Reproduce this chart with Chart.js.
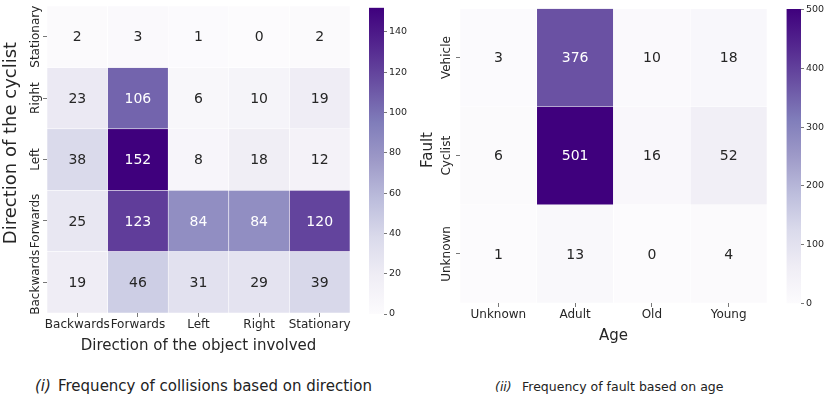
<!DOCTYPE html>
<html>
<head>
<meta charset="utf-8">
<script src="https://cdn.jsdelivr.net/npm/chart.js@4.4.1/dist/chart.umd.min.js"></script>
<style>
  html, body { margin:0; padding:0; background:#fff; }
  body { width:830px; height:400px; position:relative; overflow:hidden; font-family:"DejaVu Sans", sans-serif; color:#262626; }
  .box { position:absolute; }
  .cap { position:absolute; white-space:nowrap; line-height:1; color:#222; }
  .cap i { font-style:italic; }
</style>
</head>
<body>
<div class="box" style="left:0;top:0;width:360px;height:360px"><canvas id="dirChart"></canvas></div>
<div class="box" style="left:360px;top:0;width:60px;height:330px"><canvas id="dirBar"></canvas></div>
<div class="box" style="left:420px;top:0;width:360px;height:350px"><canvas id="ageChart"></canvas></div>
<div class="box" style="left:780px;top:0;width:50px;height:320px"><canvas id="ageBar"></canvas></div>

<div class="cap" style="left:35px;top:379px;font-size:15px"><i>(i)</i></div>
<div class="cap" style="left:58px;top:379px;font-size:15px">Frequency of collisions based on direction</div>
<div class="cap" style="left:495px;top:381px;font-size:12.5px"><i>(ii)</i></div>
<div class="cap" style="left:522px;top:381px;font-size:12.5px">Frequency of fault based on age</div>

<script>
// heatmap (i): direction of cyclist vs direction of object
const DIR_COLS = ["Backwards", "Forwards", "Left", "Right", "Stationary"];
const DIR_ROWS = ["Stationary", "Right", "Left", "Forwards", "Backwards"];
const DIR_STATIONARY = [2, 3, 1, 0, 2];
const DIR_RIGHT      = [23, 106, 6, 10, 19];
const DIR_LEFT       = [38, 152, 8, 18, 12];
const DIR_FORWARDS   = [25, 123, 84, 84, 120];
const DIR_BACKWARDS  = [19, 46, 31, 29, 39];
const DIR_VALUES = [DIR_STATIONARY, DIR_RIGHT, DIR_LEFT, DIR_FORWARDS, DIR_BACKWARDS];
const DIR_CBAR_STEP = 20;

// heatmap (ii): fault vs age
const AGE_COLS = ["Unknown", "Adult", "Old", "Young"];
const FAULT_ROWS = ["Vehicle", "Cyclist", "Unknown"];
const FAULT_VEHICLE = [3, 376, 10, 18];
const FAULT_CYCLIST = [6, 501, 16, 52];
const FAULT_UNKNOWN = [1, 13, 0, 4];
const FAULT_VALUES = [FAULT_VEHICLE, FAULT_CYCLIST, FAULT_UNKNOWN];
const AGE_CBAR_STEP = 100;

// matplotlib "Purples"
const PURPLES = ["#fcfbfd","#efedf5","#dadaeb","#bcbddc","#9e9ac8","#807dba","#6a51a3","#54278f","#3f007d"];
const FONT = "DejaVu Sans";
const INK = "#262626";

function hexRgb(h){ return [1,3,5].map(i => parseInt(h.slice(i, i+2), 16)); }
function purpleRgb(t){
  t = Math.max(0, Math.min(1, t));
  const p = t * (PURPLES.length - 1);
  const i = Math.min(PURPLES.length - 2, Math.floor(p));
  const f = p - i;
  const a = hexRgb(PURPLES[i]), b = hexRgb(PURPLES[i+1]);
  return a.map((v, k) => Math.round(v + (b[k] - v) * f));
}
function rgbStr(c){ return `rgb(${c[0]},${c[1]},${c[2]})`; }
function relLum(c){
  const l = c.map(v => { v /= 255; return v <= 0.03928 ? v / 12.92 : Math.pow((v + 0.055) / 1.055, 2.4); });
  return 0.2126*l[0] + 0.7152*l[1] + 0.0722*l[2];
}

function makeHeatmap(id, rows, cols, values, o){
  const vmax = Math.max(...values.flat());
  const datasets = rows.map((r, ri) => ({
    label: r,
    data: cols.map(() => [ri, ri + 1]),
    backgroundColor: values[ri].map(v => rgbStr(purpleRgb(v / vmax))),
    borderColor: "#ffffff",
    borderWidth: 0.6,
    borderSkipped: false,
    grouped: false,
    categoryPercentage: 1,
    barPercentage: 1
  }));

  // cell numbers + rotated y tick labels / y title
  const labelsPlugin = {
    id: "cellLabels",
    afterDatasetsDraw(chart){
      const ctx = chart.ctx;
      ctx.save();
      ctx.textAlign = "center";
      ctx.textBaseline = "middle";
      ctx.font = `14px "${FONT}"`;
      rows.forEach((r, ri) => {
        const meta = chart.getDatasetMeta(ri);
        meta.data.forEach((bar, ci) => {
          const p = bar.getProps(["x", "y", "base"], true);
          const v = values[ri][ci];
          ctx.fillStyle = relLum(purpleRgb(v / vmax)) > 0.408 ? INK : "#ffffff";
          ctx.fillText(String(v), p.x, (p.y + p.base) / 2 + 1);
        });
      });
      const ys = chart.scales.y;
      ctx.fillStyle = INK;
      ctx.font = `12px "${FONT}"`;
      rows.forEach((r, ri) => {
        ctx.save();
        ctx.translate(o.tickX, ys.getPixelForValue(ri + 0.5));
        ctx.rotate(-Math.PI / 2);
        ctx.fillText(r, 0, 0);
        ctx.restore();
      });
      ctx.font = `${o.yTitleSize}px "${FONT}"`;
      ctx.translate(o.yTitleX, o.yTitleY);
      ctx.rotate(-Math.PI / 2);
      ctx.fillText(o.yTitle, 0, 0);
      ctx.restore();
    }
  };

  return new Chart(document.getElementById(id), {
    type: "bar",
    data: { labels: cols, datasets },
    plugins: [labelsPlugin],
    options: {
      responsive: true, maintainAspectRatio: false, animation: false,
      layout: { padding: o.padding },
      plugins: { legend: { display: false }, tooltip: { enabled: false } },
      scales: {
        x: {
          type: "category", offset: true,
          grid: { offset: false, drawOnChartArea: false, tickLength: 4, color: "#555", lineWidth: 0.8 },
          border: { display: false },
          ticks: { font: { family: FONT, size: 12 }, color: INK, padding: 1, maxRotation: 0, autoSkip: false },
          title: { display: true, text: o.xTitle, color: INK, font: { family: FONT, size: 15 }, padding: { top: 0, bottom: o.xTitlePad } },
          afterFit: s => { s.height = o.xAxisH; }
        },
        y: {
          type: "linear", min: 0, max: rows.length, reverse: true,
          afterBuildTicks: s => { s.ticks = rows.map((_, i) => ({ value: i + 0.5 })); },
          ticks: { display: false },
          grid: { drawOnChartArea: false, tickLength: 4, color: "#555", lineWidth: 0.8 },
          border: { display: false },
          afterFit: s => { s.width = o.yAxisW; }
        }
      }
    }
  });
}

function makeColorbar(id, values, step, o){
  const vmax = Math.max(...values.flat());
  return new Chart(document.getElementById(id), {
    type: "bar",
    data: {
      labels: [""],
      datasets: [{
        data: [[0, vmax]],
        backgroundColor: (c) => {
          const {chart} = c;
          if (!chart.chartArea) return PURPLES[4];
          const y = chart.scales.y;
          const g = chart.ctx.createLinearGradient(0, y.getPixelForValue(0), 0, y.getPixelForValue(vmax));
          PURPLES.forEach((col, i) => g.addColorStop(i / (PURPLES.length - 1), col));
          return g;
        },
        borderWidth: 0,
        categoryPercentage: 1,
        barPercentage: 1
      }]
    },
    options: {
      responsive: true, maintainAspectRatio: false, animation: false,
      layout: { padding: o.padding },
      plugins: { legend: { display: false }, tooltip: { enabled: false } },
      scales: {
        x: { display: false },
        y: {
          position: "right", min: 0, max: vmax,
          afterBuildTicks: s => {
            const t = [];
            for (let v = 0; v <= vmax; v += step) t.push({ value: v });
            s.ticks = t;
          },
          ticks: { font: { family: FONT, size: 9.5 }, color: INK, padding: 2, callback: v => String(Math.round(v)) },
          grid: { drawOnChartArea: false, tickLength: 3, color: "#555", lineWidth: 0.8 },
          border: { display: false },
          afterFit: s => { s.width = o.axisW; }
        }
      }
    }
  });
}

makeHeatmap("dirChart", DIR_ROWS, DIR_COLS, DIR_VALUES, {
  padding: { left: 0, top: 6, right: 10, bottom: 0 },
  yAxisW: 47, xAxisH: 47, xTitlePad: 5,
  xTitle: "Direction of the object involved",
  yTitle: "Direction of the cyclist", yTitleSize: 18, yTitleX: 11, yTitleY: 143,
  tickX: 36
});
makeColorbar("dirBar", DIR_VALUES, DIR_CBAR_STEP, {
  padding: { left: 9, top: 5, right: 0, bottom: 16 }, axisW: 36
});

makeHeatmap("ageChart", FAULT_ROWS, AGE_COLS, FAULT_VALUES, {
  padding: { left: 0, top: 8.5, right: 13, bottom: 0 },
  yAxisW: 40, xAxisH: 47, xTitlePad: 5,
  xTitle: "Age",
  yTitle: "Fault", yTitleSize: 15, yTitleX: 8, yTitleY: 150,
  tickX: 27
});
makeColorbar("ageBar", FAULT_VALUES, AGE_CBAR_STEP, {
  padding: { left: 6.5, top: 9, right: 0, bottom: 16.5 }, axisW: 29
});
</script>
</body>
</html>
